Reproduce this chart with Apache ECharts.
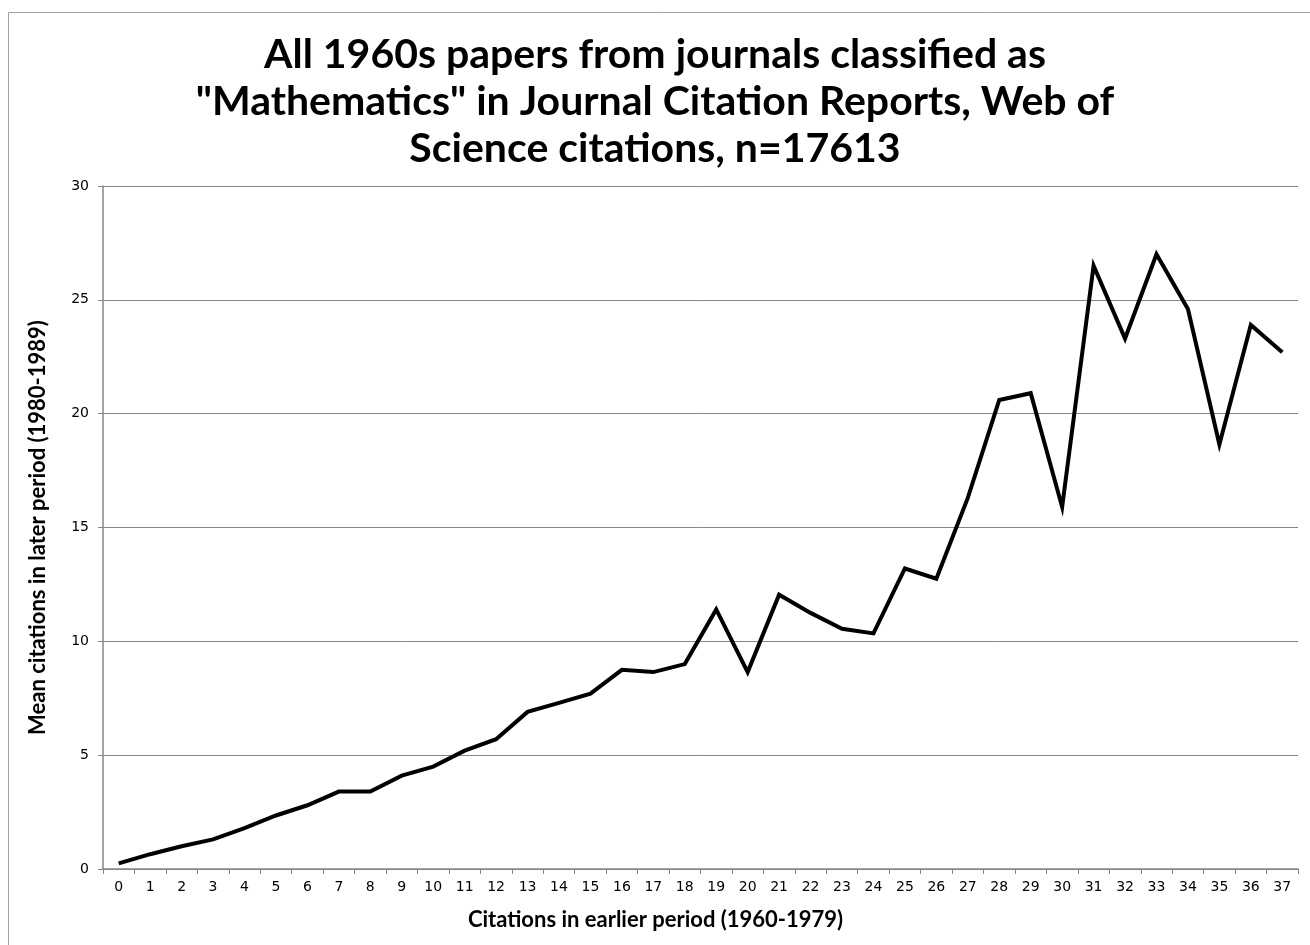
<!DOCTYPE html>
<html>
<head>
<meta charset="utf-8">
<script src="https://cdn.jsdelivr.net/npm/echarts@6/dist/echarts.min.js"></script>
<style>
html,body{margin:0;padding:0;background:#fff;}
#chart{width:1310px;height:945px;}
</style>
</head>
<body>
<div id="chart"></div>
<script>
const categories = ["0","1","2","3","4","5","6","7","8","9","10","11","12","13","14","15","16","17","18","19","20","21","22","23","24","25","26","27","28","29","30","31","32","33","34","35","36","37"];
const meanCitations = [0.25,0.65,1.0,1.3,1.8,2.35,2.8,3.4,3.4,4.1,4.5,5.2,5.7,6.9,7.3,7.7,8.75,8.65,9.0,11.4,8.65,12.05,11.25,10.55,10.35,13.2,12.75,16.3,20.6,20.9,15.9,26.5,23.3,27.0,24.6,18.65,23.9,22.7];
const titleText = 'All 1960s papers from journals classified as\n"Mathematics" in Journal Citation Reports, Web of\nScience citations, n=17613';
const xName = 'Citations in earlier period (1960-1979)';
const yName = 'Mean citations in later period (1980-1989)';

const chart = echarts.init(document.getElementById('chart'), null, {renderer:'canvas'});
chart.setOption({
  animation:false,
  backgroundColor:'#fff',
  graphic:[{
    type:'rect', shape:{x:8.5,y:12.5,width:1320,height:960},
    style:{fill:'none',stroke:'#a0a0a0',lineWidth:1}, silent:true, z:-1
  }],
  title:{
    text:titleText, left:'center', top:26,
    textStyle:{fontFamily:'Lato', fontWeight:'bold', fontSize:41, lineHeight:47, color:'#000'}
  },
  grid:{left:103, right:12, top:186, bottom:76, containLabel:false},
  xAxis:{
    type:'category', data:categories, boundaryGap:true,
    name:xName, nameLocation:'middle', nameGap:40,
    nameTextStyle:{fontFamily:'Lato', fontWeight:'bold', fontSize:22, color:'#000', padding:[0,90,0,0]},
    axisLine:{lineStyle:{color:'#868686', width:1.5}},
    axisTick:{show:true, length:5, interval:0, lineStyle:{color:'#868686'}},
    axisLabel:{interval:0, fontFamily:'DejaVu Sans', fontSize:14, color:'#000', margin:11},
    splitLine:{show:false}
  },
  yAxis:{
    type:'value', min:0, max:30, interval:5,
    name:yName, nameLocation:'middle', nameGap:54, nameRotate:90,
    nameTextStyle:{fontFamily:'Lato', fontWeight:'bold', fontSize:22, color:'#000'},
    axisLine:{show:true, lineStyle:{color:'#868686', width:1.5}},
    axisTick:{show:true, length:5, lineStyle:{color:'#868686'}},
    axisLabel:{fontFamily:'DejaVu Sans', fontSize:14, color:'#000', margin:14},
    splitLine:{show:true, lineStyle:{color:'#868686', width:1}}
  },
  series:[{
    type:'line', data:meanCitations, symbol:'none',
    lineStyle:{color:'#000', width:4, join:'miter'}
  }]
});
</script>
</body>
</html>
